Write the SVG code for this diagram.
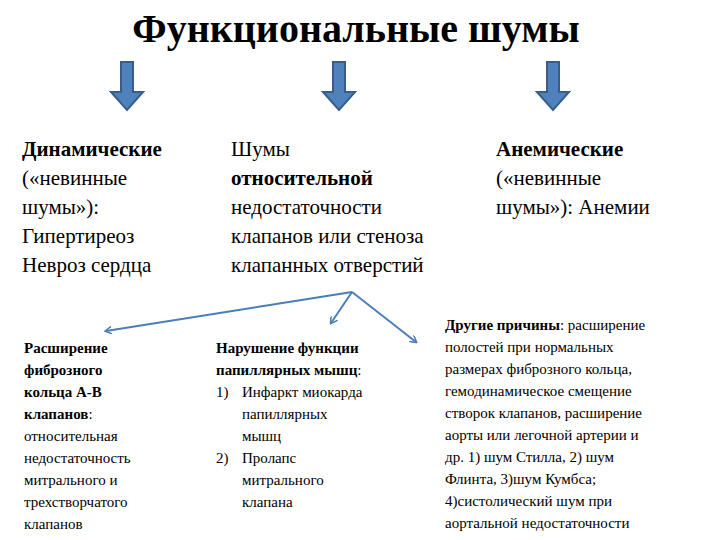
<svg xmlns="http://www.w3.org/2000/svg" width="720" height="540" viewBox="0 0 720 540" font-family="'Liberation Serif', 'DejaVu Serif', serif">
<style>
text, tspan{font-family:'Liberation Serif','Times New Roman','DejaVu Serif',serif}
text{fill:#000}
.t{font-size:40px;font-weight:bold}
.m{font-size:21px}
.s{font-size:15px}
.b{font-weight:bold}
.ar{fill:#4f81bd;stroke:#385d8a;stroke-width:2}
.c{stroke:#4a7ebb;stroke-width:2;fill:none}
</style>
<defs><marker id="h" markerWidth="8" markerHeight="8" refX="6" refY="4" orient="auto" markerUnits="userSpaceOnUse"><path d="M0,0 L7,4 L0,8" fill="none" stroke="#4a7ebb" stroke-width="1.5"/></marker></defs>
<g id="title"><text class="t" x="356" y="42" text-anchor="middle">Функциональные шумы</text></g>
<g id="arrows">
<path class="ar" d="M121,62 h12 v30 h10 l-16,18 l-16,-18 h10 z"/>
<path class="ar" d="M333,62 h12 v30 h10 l-16,18 l-16,-18 h10 z"/>
<path class="ar" d="M547,62 h12 v30 h10 l-16,18 l-16,-18 h10 z"/>
</g>
<g id="n1" class="m"><text x="22" y="156"><tspan class="b">Динамические</tspan><tspan x="22" dy="29">(«невинные</tspan><tspan x="22" dy="29">шумы»):</tspan><tspan x="22" dy="29">Гипертиреоз</tspan><tspan x="22" dy="29">Невроз сердца</tspan></text></g>
<g id="n2" class="m"><text x="231" y="156">Шумы<tspan x="231" dy="29" class="b">относительной</tspan><tspan x="231" dy="29">недостаточности</tspan><tspan x="231" dy="29">клапанов или стеноза</tspan><tspan x="231" dy="29">клапанных отверстий</tspan></text></g>
<g id="n3" class="m"><text x="496" y="156"><tspan class="b">Анемические</tspan><tspan x="496" dy="29">(«невинные</tspan><tspan x="496" dy="29">шумы»): Анемии</tspan></text></g>
<g id="connectors">
<line class="c" x1="352" y1="292" x2="106" y2="331" marker-end="url(#h)"/>
<line class="c" x1="352" y1="292" x2="331" y2="323" marker-end="url(#h)"/>
<line class="c" x1="352" y1="292" x2="416" y2="342" marker-end="url(#h)"/>
</g>
<g id="n4" class="s"><text x="24" y="353"><tspan class="b">Расширение</tspan><tspan x="24" dy="22" class="b">фиброзного</tspan><tspan x="24" dy="22" class="b">кольца А-В</tspan><tspan x="24" dy="22"><tspan class="b">клапанов</tspan>:</tspan><tspan x="24" dy="22">относительная</tspan><tspan x="24" dy="22">недостаточность</tspan><tspan x="24" dy="22">митрального и</tspan><tspan x="24" dy="22">трехстворчатого</tspan><tspan x="24" dy="22">клапанов</tspan></text></g>
<g id="n5" class="s"><text x="216" y="353"><tspan class="b">Нарушение функции</tspan><tspan x="216" dy="22"><tspan class="b">папиллярных мышц</tspan>:</tspan><tspan x="216" dy="22">1)</tspan><tspan x="242">Инфаркт миокарда</tspan><tspan x="242" dy="22">папиллярных</tspan><tspan x="242" dy="22">мышц</tspan><tspan x="216" dy="22">2)</tspan><tspan x="242">Пролапс</tspan><tspan x="242" dy="22">митрального</tspan><tspan x="242" dy="22">клапана</tspan></text></g>
<g id="n6" class="s"><text x="445" y="330"><tspan class="b">Другие причины</tspan>: расширение<tspan x="445" dy="22">полостей при нормальных</tspan><tspan x="445" dy="22">размерах фиброзного кольца,</tspan><tspan x="445" dy="22">гемодинамическое смещение</tspan><tspan x="445" dy="22">створок клапанов, расширение</tspan><tspan x="445" dy="22">аорты или легочной артерии и</tspan><tspan x="445" dy="22">др. 1) шум Стилла, 2) шум</tspan><tspan x="445" dy="22">Флинта, 3)шум Кумбса;</tspan><tspan x="445" dy="22">4)систолический шум при</tspan><tspan x="445" dy="22">аортальной недостаточности</tspan></text></g>
</svg>
